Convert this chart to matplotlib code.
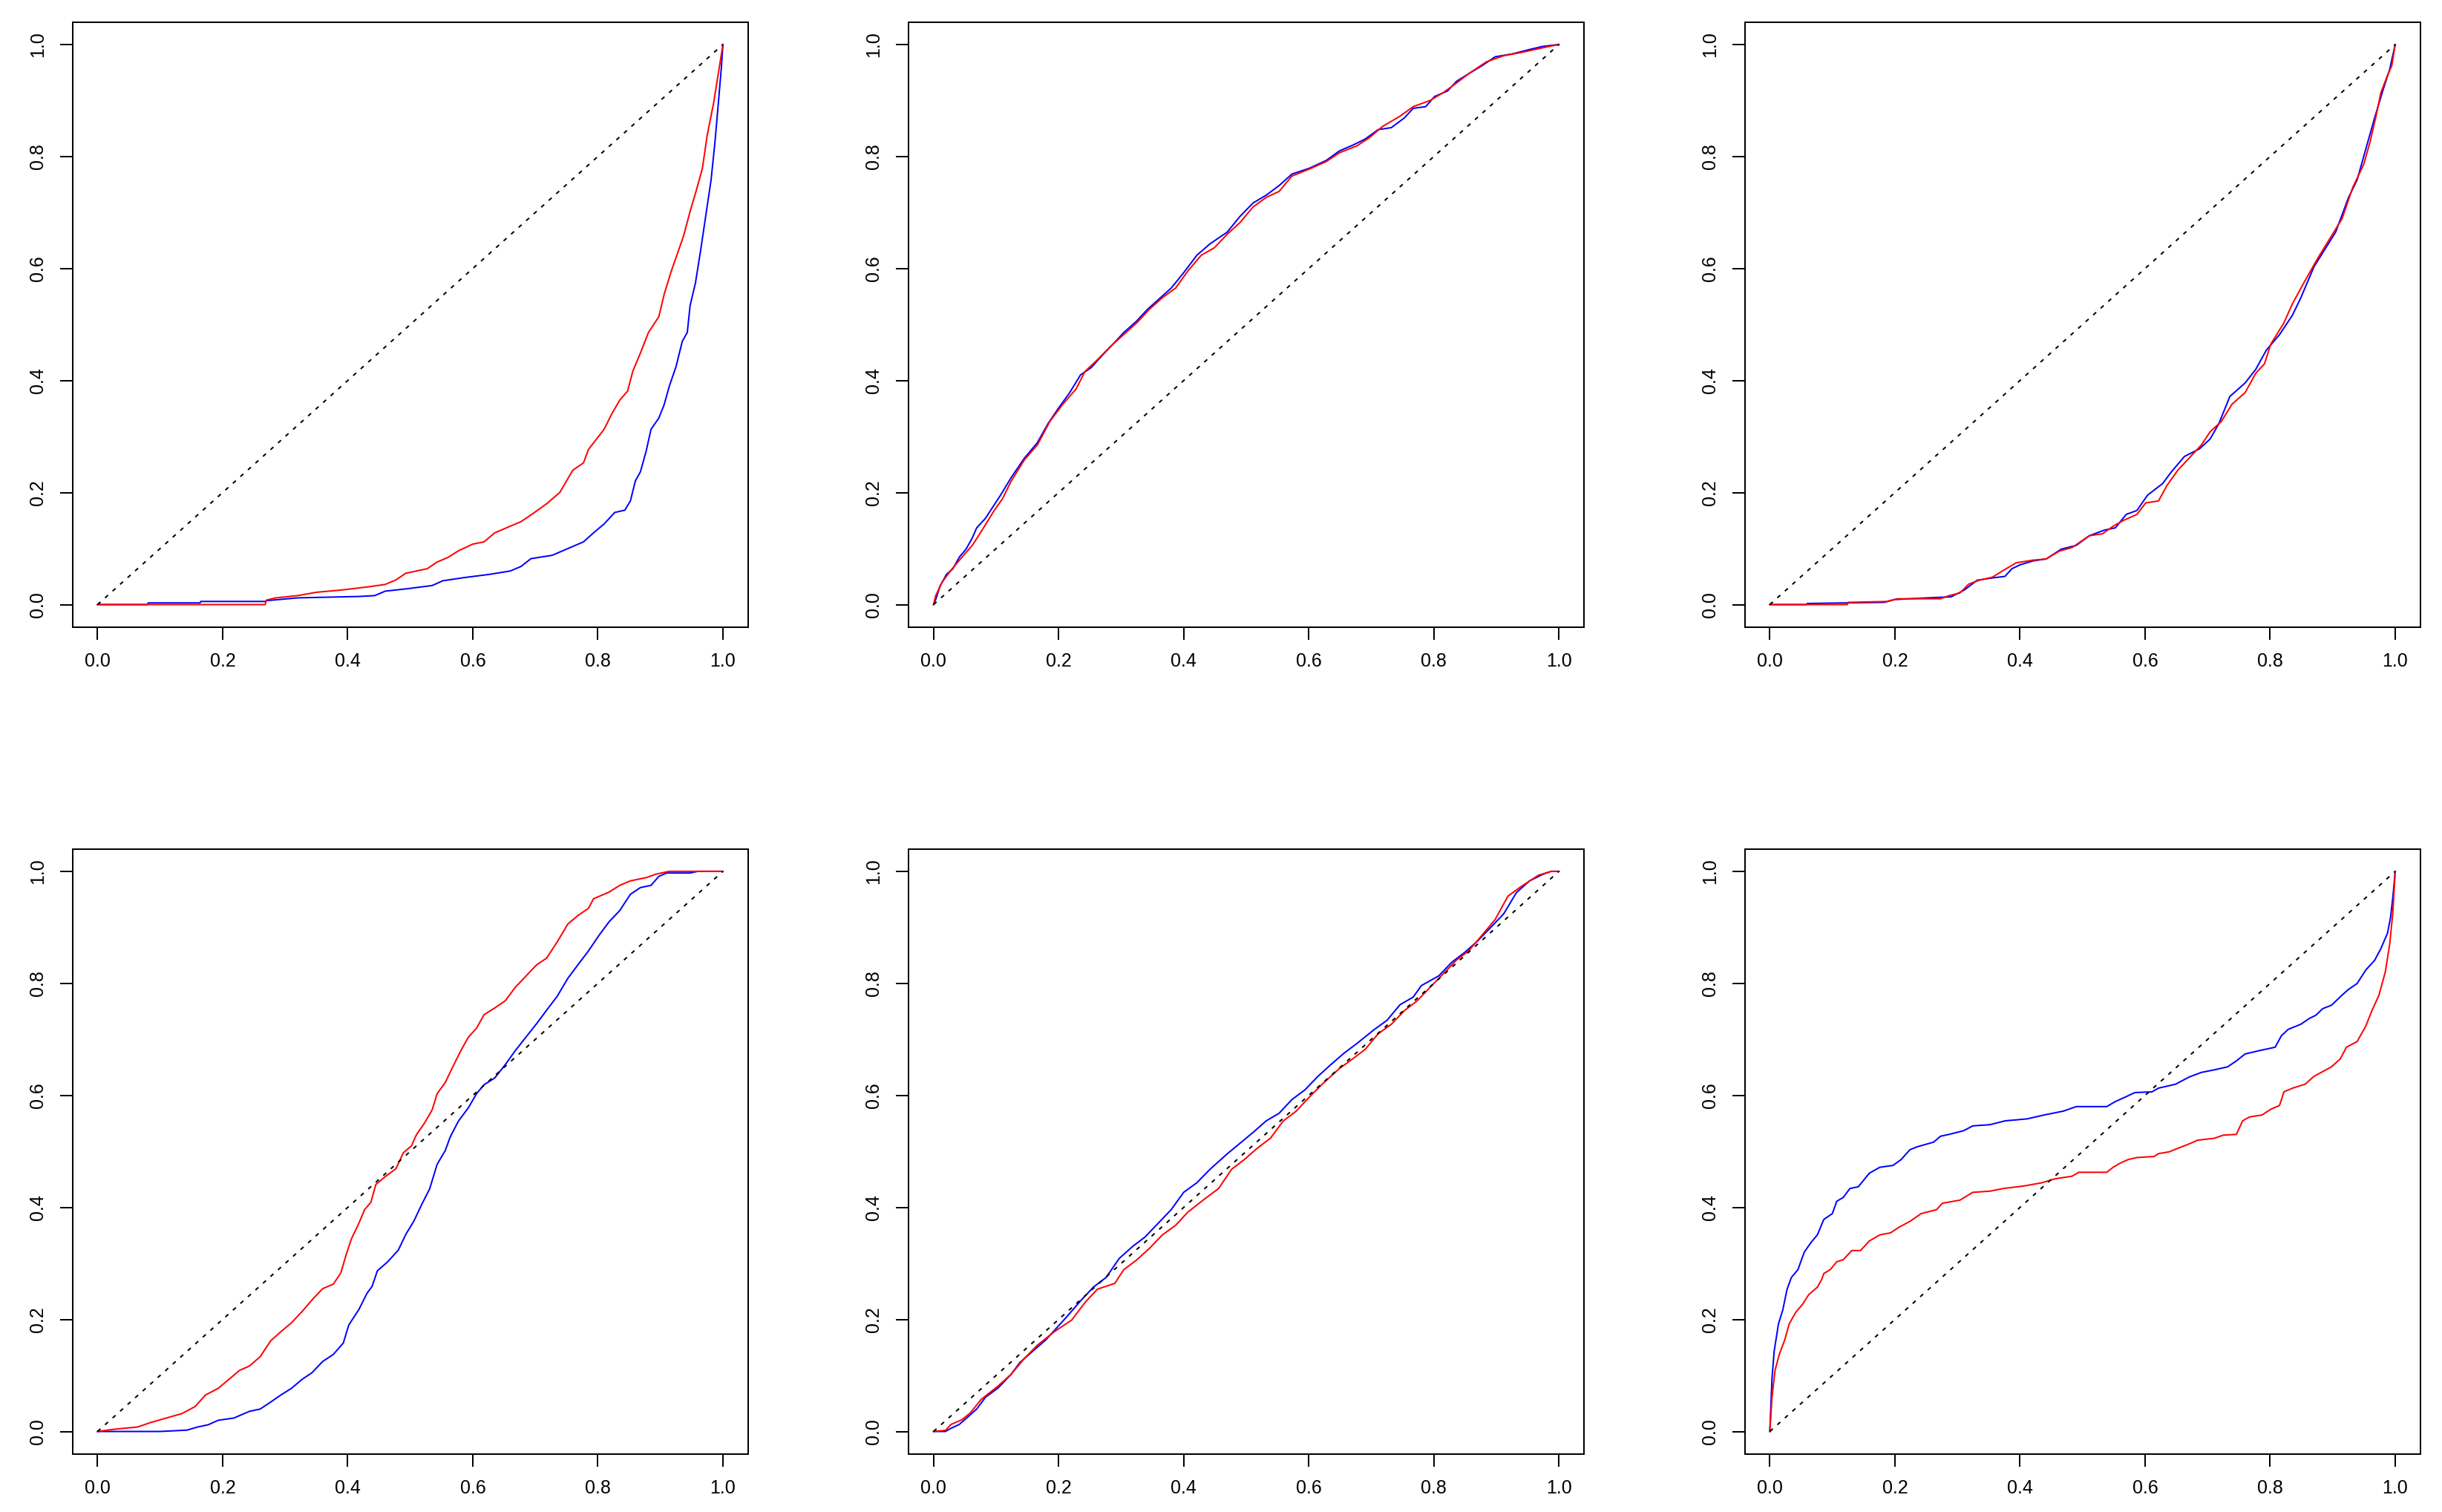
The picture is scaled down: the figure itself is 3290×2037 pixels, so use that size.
import matplotlib
matplotlib.use("Agg")
import matplotlib.pyplot as plt
from matplotlib.ticker import FormatStrFormatter

plt.rcParams['font.family'] = ['Liberation Sans', 'DejaVu Sans']

tick_values = [0.0, 0.2, 0.4, 0.6, 0.8, 1.0]

# ---- Panel 1 (top-left) ----
p1_blue = [(0, 0), (0.08, 0), (0.081, 0.003), (0.164, 0.003), (0.165, 0.0056), (0.268, 0.0056),
           (0.27, 0.007), (0.32, 0.012), (0.418, 0.0145), (0.443, 0.016), (0.46, 0.024), (0.493, 0.028),
           (0.535, 0.034), (0.552, 0.0425), (0.585, 0.048), (0.627, 0.054), (0.66, 0.06), (0.677, 0.068),
           (0.693, 0.082), (0.727, 0.088), (0.752, 0.1), (0.777, 0.112), (0.793, 0.128), (0.81, 0.144),
           (0.827, 0.1645), (0.843, 0.1685), (0.852, 0.185), (0.86, 0.221), (0.868, 0.237), (0.877, 0.273),
           (0.885, 0.313), (0.8975, 0.333), (0.906, 0.357), (0.914, 0.389), (0.925, 0.425), (0.935, 0.47),
           (0.943, 0.486), (0.9475, 0.534), (0.956, 0.574), (0.964, 0.63), (0.9725, 0.694), (0.981, 0.758),
           (0.987, 0.823), (0.992, 0.887), (0.9975, 0.959), (1, 1)]
p1_red = [(0, 0), (0.268, 0), (0.27, 0.008), (0.285, 0.012), (0.32, 0.016), (0.35, 0.022), (0.39, 0.026),
          (0.435, 0.032), (0.46, 0.036), (0.477, 0.044), (0.493, 0.056), (0.527, 0.064), (0.543, 0.076),
          (0.56, 0.084), (0.577, 0.096), (0.6, 0.108), (0.618, 0.112), (0.635, 0.128), (0.66, 0.14),
          (0.677, 0.148), (0.693, 0.16), (0.718, 0.18), (0.739, 0.2), (0.76, 0.24), (0.777, 0.253),
          (0.785, 0.277), (0.81, 0.313), (0.8225, 0.341), (0.835, 0.365), (0.8475, 0.381), (0.856, 0.417),
          (0.868, 0.449), (0.881, 0.486), (0.8975, 0.514), (0.906, 0.554), (0.917, 0.594), (0.927, 0.626),
          (0.937, 0.658), (0.9475, 0.702), (0.956, 0.734), (0.967, 0.778), (0.975, 0.839), (0.985, 0.895),
          (0.993, 0.951), (1.0, 1.0)]

# ---- Panel 2 (top-middle) ----
p2_blue = [(0, 0), (0.0035, 0.009), (0.0104, 0.033), (0.0207, 0.054), (0.031, 0.064), (0.0414, 0.085),
           (0.052, 0.099), (0.062, 0.119), (0.069, 0.137), (0.083, 0.154), (0.097, 0.178), (0.107, 0.195),
           (0.124, 0.2265), (0.145, 0.261), (0.166, 0.289), (0.183, 0.323), (0.2, 0.351), (0.2175, 0.378),
           (0.235, 0.41), (0.252, 0.423), (0.269, 0.444), (0.287, 0.465), (0.304, 0.4855), (0.3246, 0.506),
           (0.342, 0.527), (0.359, 0.544), (0.38, 0.565), (0.4, 0.5925), (0.421, 0.6236), (0.442, 0.644),
           (0.4696, 0.665), (0.49, 0.693), (0.511, 0.717), (0.532, 0.731), (0.5525, 0.748), (0.573, 0.7686),
           (0.601, 0.779), (0.628, 0.793), (0.649, 0.81), (0.67, 0.82), (0.69, 0.831), (0.711, 0.848),
           (0.732, 0.8515), (0.753, 0.869), (0.767, 0.886), (0.787, 0.889), (0.801, 0.907), (0.822, 0.917),
           (0.836, 0.934), (0.856, 0.948), (0.877, 0.962), (0.898, 0.978), (0.925, 0.983), (0.953, 0.991),
           (0.974, 0.9965), (1, 1)]
p2_red = [(0, 0), (0.0035, 0.016), (0.0138, 0.04), (0.0276, 0.061), (0.048, 0.088), (0.062, 0.1057),
          (0.076, 0.13), (0.097, 0.168), (0.11, 0.1885), (0.124, 0.22), (0.145, 0.258), (0.166, 0.285),
          (0.186, 0.327), (0.207, 0.358), (0.228, 0.385), (0.242, 0.416), (0.262, 0.437), (0.283, 0.461),
          (0.304, 0.482), (0.325, 0.503), (0.345, 0.527), (0.366, 0.548), (0.387, 0.565), (0.407, 0.596),
          (0.428, 0.6236), (0.449, 0.637), (0.47, 0.6616), (0.49, 0.682), (0.511, 0.71), (0.532, 0.727),
          (0.5525, 0.7376), (0.573, 0.765), (0.601, 0.7776), (0.628, 0.791), (0.649, 0.8066), (0.677, 0.819),
          (0.6975, 0.834), (0.718, 0.8536), (0.746, 0.872), (0.767, 0.889), (0.794, 0.9), (0.815, 0.914),
          (0.836, 0.931), (0.856, 0.948), (0.884, 0.969), (0.912, 0.98), (0.939, 0.9855), (0.974, 0.994),
          (1, 1)]

# ---- Panel 3 (top-right) ----
p3_blue = [(0, 0), (0.0587, 0.0), (0.06, 0.002), (0.183, 0.004), (0.2, 0.009), (0.259, 0.0124),
           (0.29, 0.0138), (0.311, 0.026), (0.3315, 0.0435), (0.352, 0.047), (0.376, 0.0504), (0.387, 0.064),
           (0.4, 0.071), (0.421, 0.078), (0.442, 0.0815), (0.466, 0.099), (0.49, 0.1057), (0.511, 0.123),
           (0.535, 0.133), (0.5525, 0.137), (0.5698, 0.161), (0.587, 0.168), (0.604, 0.1954), (0.628, 0.216),
           (0.642, 0.2369), (0.663, 0.2645), (0.687, 0.278), (0.704, 0.2956), (0.718, 0.323), (0.7355, 0.3715),
           (0.76, 0.3957), (0.777, 0.42), (0.794, 0.4544), (0.815, 0.482), (0.8356, 0.5166), (0.849, 0.5476),
           (0.87, 0.603), (0.8874, 0.634), (0.9047, 0.665), (0.9254, 0.727), (0.939, 0.758), (0.953, 0.8135),
           (0.967, 0.8688), (0.981, 0.9206), (0.991, 0.955), (1, 1)]
p3_red = [(0, 0), (0.124, 0.0), (0.125, 0.004), (0.1865, 0.0055), (0.204, 0.0104), (0.273, 0.0104),
          (0.2866, 0.016), (0.304, 0.0207), (0.318, 0.0366), (0.335, 0.0435), (0.356, 0.049), (0.373, 0.0608),
          (0.394, 0.0746), (0.421, 0.0794), (0.442, 0.0815), (0.4627, 0.0953), (0.4834, 0.102), (0.511, 0.123),
          (0.532, 0.1264), (0.549, 0.14), (0.566, 0.1506), (0.587, 0.161), (0.601, 0.1816), (0.6215, 0.185),
          (0.635, 0.2127), (0.6526, 0.2403), (0.67, 0.261), (0.69, 0.285), (0.7044, 0.309), (0.7217, 0.3266),
          (0.739, 0.3577), (0.76, 0.3785), (0.777, 0.413), (0.791, 0.43), (0.801, 0.465), (0.822, 0.503),
          (0.8356, 0.537), (0.856, 0.5787), (0.877, 0.62), (0.898, 0.658), (0.915, 0.689), (0.932, 0.7445),
          (0.9496, 0.786), (0.96, 0.827), (0.97, 0.8757), (0.977, 0.9137), (0.9876, 0.9448), (0.9945, 0.962),
          (1, 1)]

# ---- Panel 4 (bottom-left) ----
p4_blue = [(0, 0), (0.1, 0), (0.143, 0.0024), (0.16, 0.008), (0.177, 0.012), (0.193, 0.02), (0.218, 0.024),
           (0.243, 0.036), (0.26, 0.04), (0.277, 0.0526), (0.293, 0.065), (0.31, 0.077), (0.327, 0.093),
           (0.343, 0.105), (0.36, 0.125), (0.377, 0.1375), (0.393, 0.158), (0.4017, 0.19), (0.418, 0.218),
           (0.431, 0.247), (0.439, 0.259), (0.4475, 0.287), (0.464, 0.303), (0.481, 0.324), (0.493, 0.352),
           (0.506, 0.376), (0.518, 0.4045), (0.531, 0.433), (0.543, 0.477), (0.556, 0.5016), (0.564, 0.526),
           (0.577, 0.554), (0.593, 0.578), (0.606, 0.603), (0.618, 0.619), (0.635, 0.631), (0.652, 0.655),
           (0.668, 0.68), (0.685, 0.704), (0.702, 0.728), (0.718, 0.752), (0.735, 0.777), (0.752, 0.809),
           (0.768, 0.833), (0.785, 0.858), (0.802, 0.886), (0.818, 0.91), (0.835, 0.93), (0.852, 0.959),
           (0.868, 0.971), (0.885, 0.975), (0.8975, 0.991), (0.91, 0.997), (0.9475, 0.997), (0.96, 1.0), (1, 1)]
p4_red = [(0, 0), (0.027, 0.004), (0.064, 0.008), (0.085, 0.016), (0.11, 0.024), (0.135, 0.032),
          (0.156, 0.0445), (0.1725, 0.065), (0.193, 0.077), (0.21, 0.093), (0.227, 0.109), (0.243, 0.117),
          (0.26, 0.1335), (0.277, 0.162), (0.293, 0.178), (0.31, 0.194), (0.327, 0.214), (0.343, 0.235),
          (0.36, 0.255), (0.377, 0.263), (0.389, 0.283), (0.3975, 0.3155), (0.406, 0.344), (0.418, 0.372),
          (0.427, 0.396), (0.437, 0.409), (0.445, 0.441), (0.46, 0.455), (0.477, 0.469), (0.489, 0.4976),
          (0.502, 0.51), (0.51, 0.53), (0.5225, 0.55), (0.535, 0.574), (0.543, 0.603), (0.556, 0.623),
          (0.568, 0.651), (0.581, 0.68), (0.593, 0.704), (0.606, 0.72), (0.618, 0.744), (0.635, 0.756),
          (0.652, 0.769), (0.668, 0.793), (0.685, 0.813), (0.702, 0.833), (0.718, 0.845), (0.735, 0.874),
          (0.752, 0.906), (0.768, 0.921), (0.785, 0.934), (0.793, 0.951), (0.818, 0.963), (0.835, 0.975),
          (0.852, 0.983), (0.877, 0.9887), (0.893, 0.995), (0.914, 1.0), (1, 1)]

# ---- Panel 5 (bottom-middle) ----
p5_blue = [(0, 0), (0.019, 0), (0.0276, 0.0055), (0.041, 0.0124), (0.055, 0.026), (0.069, 0.04),
           (0.083, 0.061), (0.1036, 0.078), (0.124, 0.102), (0.138, 0.123), (0.159, 0.1436), (0.18, 0.164),
           (0.197, 0.185), (0.214, 0.206), (0.235, 0.233), (0.2555, 0.2576), (0.276, 0.275), (0.297, 0.309),
           (0.318, 0.33), (0.338, 0.347), (0.359, 0.3715), (0.38, 0.396), (0.4, 0.427), (0.421, 0.444),
           (0.442, 0.468), (0.47, 0.496), (0.49, 0.5145), (0.511, 0.534), (0.532, 0.5546), (0.5525, 0.568),
           (0.573, 0.5925), (0.594, 0.61), (0.6146, 0.634), (0.635, 0.6547), (0.656, 0.675), (0.677, 0.6927),
           (0.704, 0.717), (0.725, 0.734), (0.746, 0.762), (0.767, 0.7755), (0.78, 0.796), (0.808, 0.8135),
           (0.8287, 0.8377), (0.849, 0.855), (0.87, 0.8757), (0.891, 0.9), (0.9116, 0.924), (0.932, 0.962),
           (0.953, 0.983), (0.974, 0.9945), (0.9876, 1.0), (1, 1)]
p5_red = [(0, 0), (0.0193, 0.002), (0.0276, 0.0124), (0.045, 0.0207), (0.0587, 0.033), (0.076, 0.057),
          (0.1036, 0.0815), (0.124, 0.102), (0.145, 0.13), (0.166, 0.154), (0.193, 0.178), (0.221, 0.199),
          (0.242, 0.23), (0.262, 0.254), (0.29, 0.2645), (0.304, 0.2887), (0.3246, 0.306), (0.345, 0.3267),
          (0.366, 0.351), (0.387, 0.368), (0.407, 0.392), (0.435, 0.4164), (0.4558, 0.4337), (0.4765, 0.468),
          (0.497, 0.4855), (0.518, 0.506), (0.5387, 0.5235), (0.5594, 0.5546), (0.58, 0.572), (0.6, 0.596),
          (0.6215, 0.62), (0.649, 0.648), (0.67, 0.665), (0.69, 0.682), (0.711, 0.71), (0.732, 0.727),
          (0.753, 0.7514), (0.773, 0.7686), (0.794, 0.793), (0.815, 0.817), (0.8356, 0.841), (0.856, 0.8584),
          (0.877, 0.886), (0.898, 0.914), (0.9185, 0.9558), (0.939, 0.9724), (0.967, 0.993), (0.9876, 1.0),
          (1, 1)]

# ---- Panel 6 (bottom-right) ----
p6_blue = [(0, 0), (0.0035, 0.0953), (0.007, 0.1436), (0.0138, 0.192), (0.0207, 0.2168), (0.0276, 0.254),
           (0.0345, 0.275), (0.045, 0.289), (0.055, 0.32), (0.0656, 0.337), (0.076, 0.351), (0.0863, 0.3785),
           (0.1, 0.389), (0.107, 0.411), (0.1174, 0.4178), (0.128, 0.4337), (0.1416, 0.437), (0.159, 0.461),
           (0.176, 0.4717), (0.197, 0.475), (0.21, 0.4855), (0.224, 0.503), (0.235, 0.508), (0.262, 0.5166),
           (0.2728, 0.527), (0.2866, 0.5304), (0.31, 0.537), (0.3246, 0.5456), (0.352, 0.5477), (0.3764, 0.5546),
           (0.411, 0.558), (0.4385, 0.565), (0.4696, 0.572), (0.49, 0.58), (0.5387, 0.58), (0.5525, 0.589),
           (0.5663, 0.596), (0.5836, 0.605), (0.611, 0.6063), (0.6215, 0.613), (0.649, 0.62), (0.67, 0.6326),
           (0.69, 0.641), (0.711, 0.6457), (0.732, 0.651), (0.746, 0.6616), (0.76, 0.674), (0.787, 0.681),
           (0.808, 0.686), (0.818, 0.7065), (0.829, 0.718), (0.849, 0.727), (0.863, 0.7376), (0.873, 0.743),
           (0.884, 0.7548), (0.898, 0.761), (0.915, 0.779), (0.925, 0.789), (0.939, 0.7997), (0.953, 0.824),
           (0.967, 0.841), (0.977, 0.862), (0.9876, 0.8895), (0.9924, 0.917), (0.996, 0.952), (1, 1)]
p6_red = [(0, 0), (0.0035, 0.061), (0.0083, 0.109), (0.015, 0.137), (0.024, 0.164), (0.031, 0.192),
          (0.0414, 0.2127), (0.052, 0.2265), (0.062, 0.244), (0.076, 0.2576), (0.083, 0.2715), (0.0863, 0.282),
          (0.0967, 0.289), (0.107, 0.303), (0.1174, 0.3066), (0.131, 0.323), (0.145, 0.323), (0.159, 0.34),
          (0.176, 0.351), (0.193, 0.3546), (0.207, 0.365), (0.224, 0.375), (0.242, 0.389), (0.2666, 0.396),
          (0.276, 0.4075), (0.304, 0.413), (0.3246, 0.427), (0.352, 0.429), (0.373, 0.4337), (0.4075, 0.4385),
          (0.435, 0.444), (0.4558, 0.451), (0.4834, 0.4558), (0.4938, 0.4627), (0.5387, 0.4627), (0.549, 0.4717),
          (0.5594, 0.4786), (0.573, 0.4855), (0.587, 0.489), (0.6146, 0.491), (0.6215, 0.496), (0.6387, 0.4993),
          (0.649, 0.504), (0.67, 0.5132), (0.684, 0.52), (0.711, 0.5235), (0.725, 0.529), (0.746, 0.5304),
          (0.756, 0.5546), (0.767, 0.5615), (0.787, 0.565), (0.801, 0.5753), (0.815, 0.582), (0.822, 0.6063),
          (0.836, 0.613), (0.856, 0.62), (0.87, 0.634), (0.887, 0.6443), (0.898, 0.651), (0.912, 0.665),
          (0.922, 0.686), (0.939, 0.696), (0.953, 0.724), (0.963, 0.752), (0.974, 0.779), (0.9841, 0.8204),
          (0.991, 0.8688), (0.996, 0.924), (1, 1)]

panels = [(p1_blue, p1_red), (p2_blue, p2_red), (p3_blue, p3_red),
          (p4_blue, p4_red), (p5_blue, p5_red), (p6_blue, p6_red)]

W, H = 3291, 2037
fig = plt.figure(figsize=(W / 100, H / 100), dpi=100)

col_left_px = [97.7, 1224.0, 2350.7]
row_top_px = [29.7, 1143.7]
box_w_px, box_h_px = 910.0, 815.0

LW = 1.44
for i, (blue, red) in enumerate(panels):
    r, c = divmod(i, 3)
    left = col_left_px[c] / W
    bottom = (H - row_top_px[r] - box_h_px) / H
    ax = fig.add_axes([left, bottom, box_w_px / W, box_h_px / H])
    bx, by = zip(*blue)
    rx, ry = zip(*red)
    ax.plot(bx, by, color='#0000FF', lw=LW, solid_joinstyle='round', zorder=2)
    ax.plot(rx, ry, color='#FF0000', lw=LW, solid_joinstyle='round', zorder=3)
    ax.plot([0, 1], [0, 1], color='black', lw=LW, linestyle=(0, (2.7, 4.1)), zorder=4)
    ax.set_xlim(-0.04, 1.04)
    ax.set_ylim(-0.04, 1.04)
    ax.set_xticks(tick_values)
    ax.set_yticks(tick_values)
    ax.xaxis.set_major_formatter(FormatStrFormatter('%.1f'))
    ax.yaxis.set_major_formatter(FormatStrFormatter('%.1f'))
    ax.tick_params(direction='out', length=12, width=LW, labelsize=18, pad=13, colors='black')
    ax.tick_params(axis='y', labelrotation=90)
    for lab in ax.get_yticklabels():
        lab.set_verticalalignment('center')
    for s in ax.spines.values():
        s.set_linewidth(LW)

fig.savefig('out.png', dpi=100, facecolor='white')
